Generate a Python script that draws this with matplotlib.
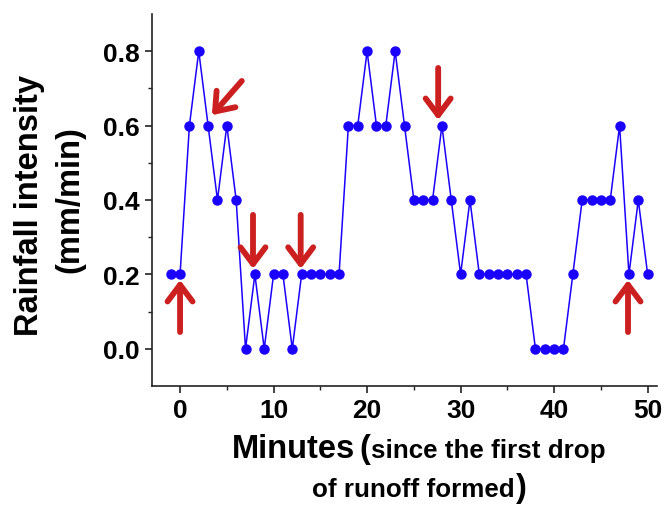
import matplotlib
matplotlib.use("Agg")
import matplotlib.pyplot as plt
import numpy as np

minutes = list(range(-1, 51))
intensity = [0.2, 0.2, 0.6, 0.8, 0.6, 0.4, 0.6, 0.4, 0.0, 0.2,
             0.0, 0.2, 0.2, 0.0, 0.2, 0.2, 0.2, 0.2, 0.2, 0.6,
             0.6, 0.8, 0.6, 0.6, 0.8, 0.6, 0.4, 0.4, 0.4, 0.6,
             0.4, 0.2, 0.4, 0.2, 0.2, 0.2, 0.2, 0.2, 0.2, 0.0,
             0.0, 0.0, 0.0, 0.2, 0.4, 0.4, 0.4, 0.4, 0.6, 0.2,
             0.4, 0.2]

# arrows: (tail_x, tail_y, head_x, head_y)
arrows = [
    (0.0, 0.045, 0.0, 0.185),
    (6.6, 0.72, 3.4, 0.628),
    (7.8, 0.36, 7.8, 0.215),
    (12.9, 0.36, 12.9, 0.215),
    (27.6, 0.755, 27.6, 0.615),
    (47.9, 0.045, 47.9, 0.185),
]

xticks = [0, 10, 20, 30, 40, 50]
yticks = [0.0, 0.2, 0.4, 0.6, 0.8]

plt.rcParams['font.family'] = ['Liberation Sans', 'DejaVu Sans']
plt.rcParams['font.weight'] = 'bold'

fig = plt.figure(figsize=(6.65, 5.06), dpi=100)
ax = fig.add_axes([152/665, 1-387/506, (657-152)/665, (387-15)/506])

ax.plot(minutes, intensity, color='#1a00ff', lw=1.1, marker='o', ms=6.5,
        mfc='#1a00ff', mec='#1a00ff', zorder=3)

for tx, ty, hx, hy in arrows:
    ax.annotate('', xy=(hx, hy), xytext=(tx, ty),
                arrowprops=dict(arrowstyle='->,head_length=0.6,head_width=0.45',
                                color='#cc1f1f', lw=4.2, mutation_scale=20,
                                shrinkA=0, shrinkB=0), zorder=4)

ax.set_xlim(-3, 51)
ax.set_ylim(-0.1, 0.9)
ax.set_xticks(xticks)
ax.set_xticklabels([str(v) for v in xticks])
ax.set_yticks(yticks)
ax.set_yticklabels([f"{v:.1f}" for v in yticks])
ax.set_xticks(np.arange(5, 50, 10), minor=True)
ax.set_yticks(np.arange(0.1, 0.9, 0.2), minor=True)

for s in ['top', 'right']:
    ax.spines[s].set_visible(False)
for s in ['left', 'bottom']:
    ax.spines[s].set_linewidth(1.2)
    ax.spines[s].set_color('#222222')

ax.tick_params(which='major', direction='out', length=5, width=1.2, color='#222222',
               labelsize=19, pad=4)
ax.tick_params(which='minor', direction='out', length=3, width=1.0, color='#222222')
for lab in ax.get_xticklabels() + ax.get_yticklabels():
    lab.set_fontweight('bold')

# y label
fig.text(30/665, 1-205/506, 'Rainfall intensity', rotation=90, ha='center', va='center',
         fontsize=23.5, fontweight='bold')
fig.text(70/665, 1-200/506, '(mm/min)', rotation=90, ha='center', va='center',
         fontsize=23.5, fontweight='bold')

# x label
fig.canvas.draw()
r = fig.canvas.get_renderer()

def px(x):
    return x / 665

t1 = fig.text(px(232), 1-458/506, 'Minutes', ha='left', va='baseline', fontsize=23.5, fontweight='bold')
e1 = t1.get_window_extent(r)
t2 = fig.text(px(e1.x1 + 4), 1-458/506, '(', ha='left', va='baseline', fontsize=23.5, fontweight='bold')
e2 = t2.get_window_extent(r)
fig.text(px(e2.x1 + 1), 1-458/506, 'since the first drop', ha='left', va='baseline',
         fontsize=18.7, fontweight='bold')
t4 = fig.text(px(312), 1-497/506, 'of runoff formed', ha='left', va='baseline',
              fontsize=18.7, fontweight='bold')
e4 = t4.get_window_extent(r)
fig.text(px(e4.x1 + 1), 1-497/506, ')', ha='left', va='baseline', fontsize=23.5, fontweight='bold')

fig.savefig('out.png', dpi=100)
